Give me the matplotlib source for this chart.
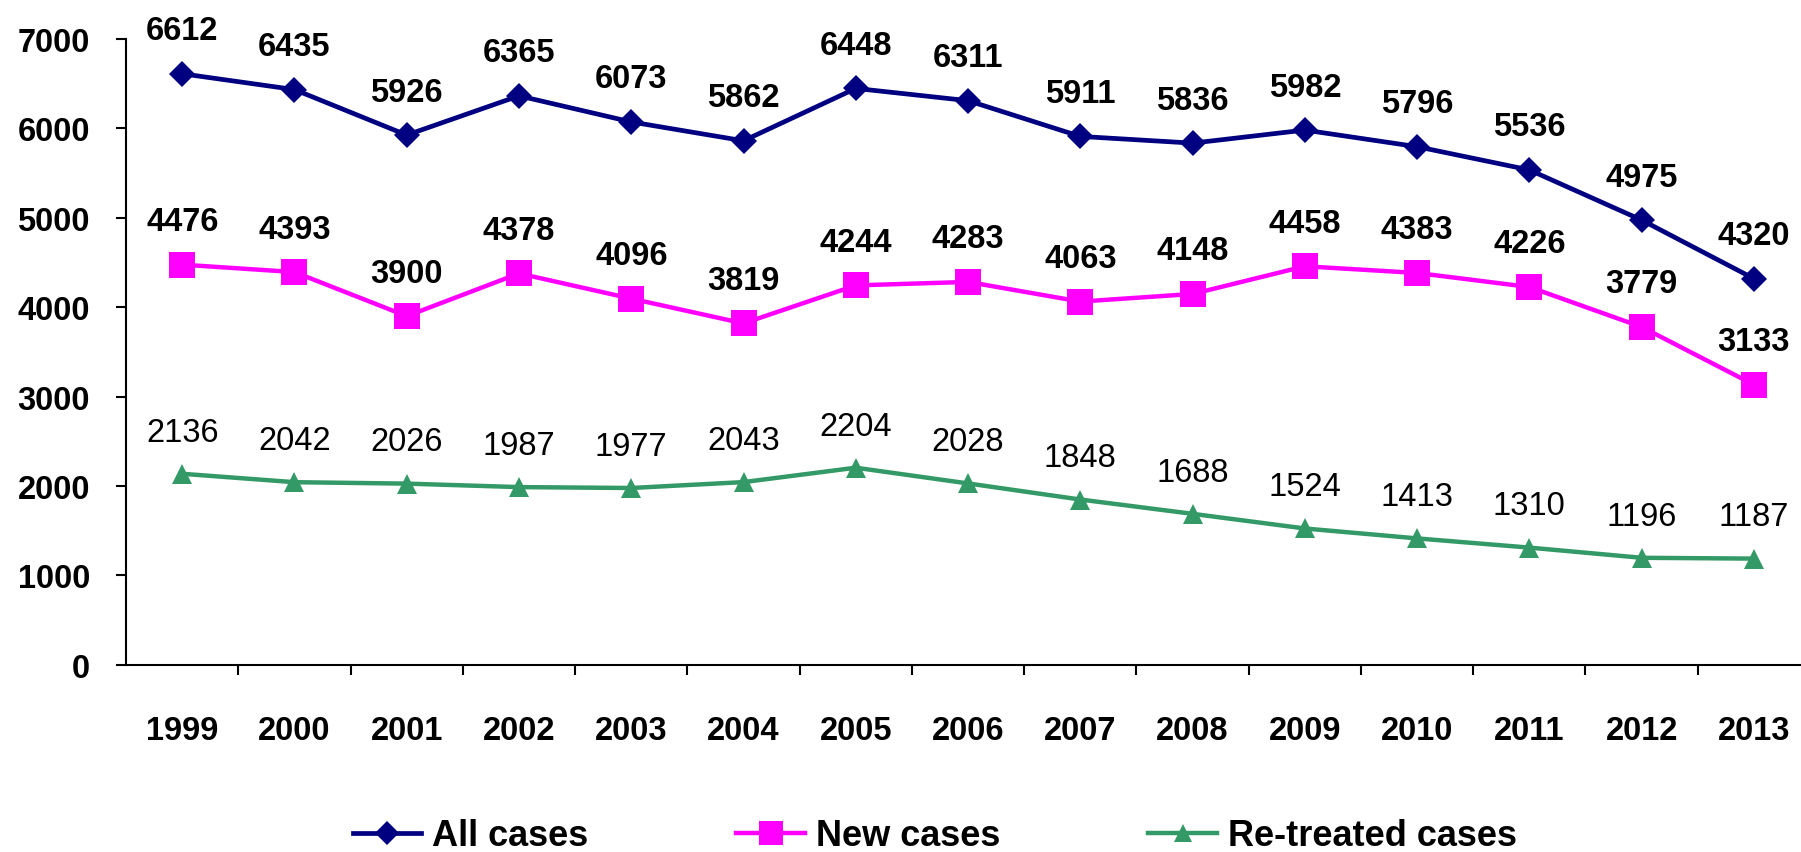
import numpy as np
import matplotlib
matplotlib.use("Agg")
import matplotlib.pyplot as plt

plt.rcParams['font.family'] = ['Liberation Sans', 'DejaVu Sans']

# Data
years = ['1999', '2000', '2001', '2002', '2003', '2004', '2005', '2006',
         '2007', '2008', '2009', '2010', '2011', '2012', '2013']
allCases = [6612, 6435, 5926, 6365, 6073, 5862, 6448, 6311,
            5911, 5836, 5982, 5796, 5536, 4975, 4320]
newCases = [4476, 4393, 3900, 4378, 4096, 3819, 4244, 4283,
            4063, 4148, 4458, 4383, 4226, 3779, 3133]
retreatedCases = [2136, 2042, 2026, 1987, 1977, 2043, 2204, 2028,
                  1848, 1688, 1524, 1413, 1310, 1196, 1187]

colorAll = '#000080'
colorNew = '#FF00FF'
colorRetreated = '#339966'

fig = plt.figure(figsize=(18.01, 8.53), dpi=100)
ax = fig.add_axes([0.07, 0.2196, 0.935, 0.7334])

x = np.arange(len(years))

lineAll, = ax.plot(x, allCases, color=colorAll, lw=3.4, marker='D',
                   ms=13.2, mew=0, label='All cases', clip_on=False)
lineNew, = ax.plot(x, newCases, color=colorNew, lw=3.2, marker='s',
                   ms=19, mew=0, label='New cases', clip_on=False)
lineRe, = ax.plot(x, retreatedCases, color=colorRetreated, lw=3.2,
                  marker='^', ms=14.5, mew=0, label='Re-treated cases',
                  clip_on=False)

# data labels: bold for the top two series, plain for re-treated
labelSize = 23.5
for xi, v in zip(x, allCases):
    ax.annotate(str(v), (xi, v), xytext=(0, 31), textcoords='offset points',
                ha='center', va='center', fontsize=labelSize,
                fontweight='bold', annotation_clip=False)
for xi, v in zip(x, newCases):
    ax.annotate(str(v), (xi, v), xytext=(0, 31), textcoords='offset points',
                ha='center', va='center', fontsize=labelSize,
                fontweight='bold', annotation_clip=False)
for xi, v in zip(x, retreatedCases):
    ax.annotate(str(v), (xi, v), xytext=(0, 30), textcoords='offset points',
                ha='center', va='center', fontsize=labelSize,
                annotation_clip=False)

ax.set_xlim(-0.5, len(years) - 0.5)
ax.set_ylim(0, 7000)
ax.set_yticks(range(0, 7001, 1000))
ax.set_xticks(x)
ax.set_xticklabels(years)
ax.set_xticks(np.arange(0.5, len(years) - 0.5, 1), minor=True)

for lab in ax.get_xticklabels() + ax.get_yticklabels():
    lab.set_fontweight('bold')
    lab.set_fontsize(labelSize)

ax.tick_params(axis='x', which='major', length=0, pad=36)
ax.tick_params(axis='x', which='minor', length=7, width=1.5, direction='out')
ax.tick_params(axis='y', which='major', length=7, width=1.5, direction='out',
               pad=19)

for side in ['top', 'right']:
    ax.spines[side].set_visible(False)
for side in ['left', 'bottom']:
    ax.spines[side].set_linewidth(1.5)

fig.legend(handles=[lineAll, lineNew, lineRe], loc='center',
           bbox_to_anchor=(0.519, 0.019), ncol=3, frameon=False,
           prop={'weight': 'bold', 'size': 26}, handlelength=1.9,
           handletextpad=0.3, columnspacing=4.1, markerscale=0.9)

fig.savefig('out.png', dpi=100)
